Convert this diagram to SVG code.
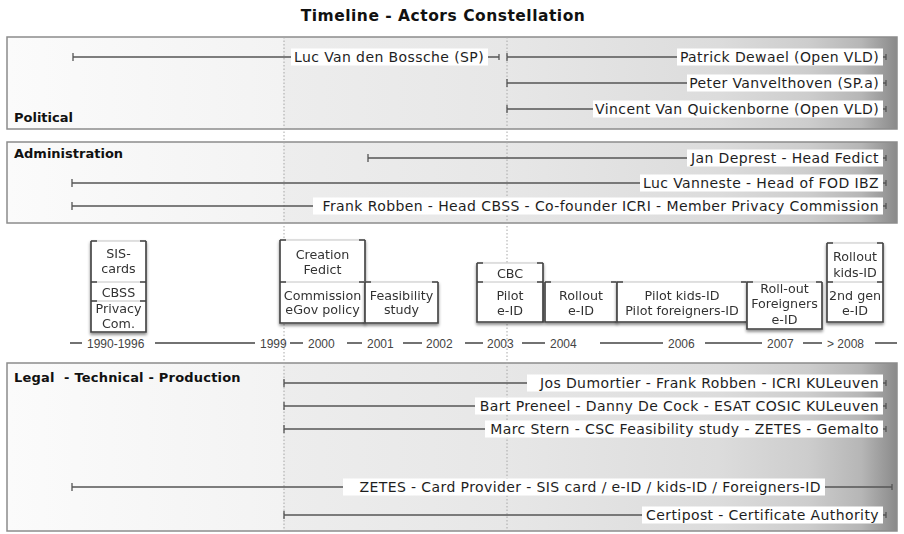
<svg xmlns="http://www.w3.org/2000/svg" width="904" height="534" viewBox="0 0 904 534">
<defs>
<linearGradient id="pg" gradientUnits="userSpaceOnUse" x1="7" y1="0" x2="897" y2="0">
<stop offset="0" stop-color="#fbfbfb"/>
<stop offset="0.31" stop-color="#f3f3f3"/>
<stop offset="0.311" stop-color="#ededed"/>
<stop offset="0.56" stop-color="#e7e7e7"/>
<stop offset="0.8" stop-color="#dcdcdc"/>
<stop offset="0.9" stop-color="#cdcdcd"/>
<stop offset="0.96" stop-color="#b6b6b6"/>
<stop offset="1" stop-color="#8a8a8a"/>
</linearGradient>
<filter id="sh" x="-10%" y="-10%" width="120%" height="130%">
<feDropShadow dx="0" dy="2" stdDeviation="1.5" flood-color="#000" flood-opacity="0.45"/>
</filter>
</defs>
<style>
.panel{fill:url(#pg);stroke:#8c8c8c;stroke-width:1.5}
.dot{stroke:#a8a8a8;stroke-width:1;stroke-dasharray:1.5 2;fill:none}
.ln{stroke:#555;stroke-width:1.3;fill:none}
.bg{fill:#fff}
.lbl{font-family:"DejaVu Sans",Verdana,sans-serif;font-size:14px;letter-spacing:0.4px;fill:#1e1e1e;text-anchor:end}
.sec{font-family:"DejaVu Sans",Verdana,sans-serif;font-weight:bold;font-size:13px;fill:#111;white-space:pre}
.title{font-family:"DejaVu Sans",Verdana,sans-serif;font-weight:bold;font-size:15.5px;letter-spacing:0.5px;fill:#111;text-anchor:middle}
.bt{font-family:"DejaVu Sans",Verdana,sans-serif;font-size:12.7px;fill:#333;text-anchor:middle}
.ax{font-family:"Liberation Sans",Arial,sans-serif;font-size:12px;fill:#444}
.axl{stroke:#444;stroke-width:1.4;fill:none}
.cell{fill:#fff;stroke:#c4c4c4;stroke-width:1}
.lt{stroke:#c4c4c4;stroke-width:1;fill:none}
.dk{stroke:#444;stroke-width:1.6;fill:none}
</style>

<text class="title" x="443" y="21">Timeline - Actors Constellation</text>

<g id="panels">
<rect id="panel-political" class="panel" x="7" y="37" width="890" height="92"/>
<rect id="panel-administration" class="panel" x="7" y="142" width="890" height="81"/>
<rect id="panel-legal" class="panel" x="7" y="363" width="890" height="168"/>
<text class="sec" x="14" y="122">Political</text>
<text class="sec" x="14" y="158">Administration</text>
<text class="sec" x="14" y="382" style="letter-spacing:0.2px">Legal  - Technical - Production</text>
</g>

<g id="guides">
<path class="dot" d="M284,37V531M507,37V531"/>
</g>

<g id="connectors">
<g id="axis">
<path class="axl" d="M70,343H82M155,343H255M290,343H303M347,343H362M403,343H422M465,343H483M522,343H545M600,343H663M705,343H762M803,343H822M875,343H897"/>
<text class="ax" x="87" y="347.5">1990-1996</text>
<text class="ax" x="260" y="347.5">1999</text>
<text class="ax" x="308" y="347.5">2000</text>
<text class="ax" x="367" y="347.5">2001</text>
<text class="ax" x="426" y="347.5">2002</text>
<text class="ax" x="487" y="347.5">2003</text>
<text class="ax" x="550" y="347.5">2004</text>
<text class="ax" x="668" y="347.5">2006</text>
<text class="ax" x="767" y="347.5">2007</text>
<text class="ax" x="827" y="347.5">&gt; 2008</text>
</g>
</g>

<g id="actors">
<g id="actor-vandenbossche">
<path class="ln" d="M73,53V61M73,57H499M499,54V60"/>
<rect class="bg" x="291" y="48.5" width="197" height="17"/>
<text class="lbl" x="484" y="62">Luc Van den Bossche (SP)</text>
</g>
<g id="actor-dewael">
<path class="ln" d="M507,53V61M507,57H886M886,54V60"/>
<rect class="bg" x="677" y="48.5" width="206" height="17"/>
<text class="lbl" x="879" y="62">Patrick Dewael (Open VLD)</text>
</g>
<g id="actor-vanvelthoven">
<path class="ln" d="M507,79V87M507,83H886M886,80V86"/>
<rect class="bg" x="687" y="74.5" width="196" height="17"/>
<text class="lbl" x="879" y="88">Peter Vanvelthoven (SP.a)</text>
</g>
<g id="actor-vanquickenborne">
<path class="ln" d="M507,105V113M507,109H886M886,106V112"/>
<rect class="bg" x="593" y="100.5" width="290" height="17"/>
<text class="lbl" x="879" y="114">Vincent Van Quickenborne (Open VLD)</text>
</g>

<g id="actor-deprest">
<path class="ln" d="M368,154V162M368,158H886M886,155V161"/>
<rect class="bg" x="687" y="149.5" width="196" height="17"/>
<text class="lbl" x="879" y="163">Jan Deprest - Head Fedict</text>
</g>
<g id="actor-vanneste">
<path class="ln" d="M72,179V187M72,183H886M886,180V186"/>
<rect class="bg" x="640" y="174.5" width="243" height="17"/>
<text class="lbl" x="879" y="188">Luc Vanneste - Head of FOD IBZ</text>
</g>
<g id="actor-robben">
<path class="ln" d="M72,202V210M72,206H886M886,203V209"/>
<rect class="bg" x="313" y="197.5" width="570" height="17"/>
<text class="lbl" x="879" y="211">Frank Robben - Head CBSS - Co-founder ICRI - Member Privacy Commission</text>
</g>

<g id="actor-dumortier">
<path class="ln" d="M284,379V387M284,383H886M886,380V386"/>
<rect class="bg" x="527" y="374.5" width="356" height="17"/>
<text class="lbl" x="879" y="388">Jos Dumortier - Frank Robben - ICRI KULeuven</text>
</g>
<g id="actor-preneel">
<path class="ln" d="M284,402V410M284,406H886M886,403V409"/>
<rect class="bg" x="475" y="397.5" width="408" height="17"/>
<text class="lbl" x="879" y="411">Bart Preneel - Danny De Cock - ESAT COSIC KULeuven</text>
</g>
<g id="actor-stern">
<path class="ln" d="M284,425V433M284,429H886M886,426V432"/>
<rect class="bg" x="485" y="420.5" width="398" height="17"/>
<text class="lbl" x="879" y="434">Marc Stern - CSC Feasibility study - ZETES - Gemalto</text>
</g>
<g id="actor-zetes">
<path class="ln" d="M72,483V491M72,487H892M892,484V490"/>
<rect class="bg" x="343" y="478.5" width="482" height="17"/>
<text class="lbl" x="821" y="492">ZETES - Card Provider - SIS card / e-ID / kids-ID / Foreigners-ID</text>
</g>
<g id="actor-certipost">
<path class="ln" d="M284,511V519M284,515H886M886,512V518"/>
<rect class="bg" x="642" y="506.5" width="241" height="17"/>
<text class="lbl" x="879" y="520">Certipost - Certificate Authority</text>
</g>
</g>

<g id="events">
<g id="box-1990" filter="url(#sh)">
<rect class="cell" x="91" y="241" width="55" height="91"/>
<path class="lt" d="M91,282H146M91,301H146"/>
<path class="dk" d="M91,241V332H146V241M91,241H97M146,241H140M91,282H97M146,282H140M91,301H97M146,301H140"/>
<text class="bt" x="118.5" y="258">SIS-</text>
<text class="bt" x="118.5" y="273">cards</text>
<text class="bt" x="118.5" y="297">CBSS</text>
<text class="bt" x="118.5" y="313">Privacy</text>
<text class="bt" x="118.5" y="328">Com.</text>
</g>
<g id="box-2000" filter="url(#sh)">
<rect class="cell" x="280" y="240" width="85" height="83"/>
<path class="lt" d="M280,282H365"/>
<path class="dk" d="M280,240V323H365V240M280,240H286M365,240H359M280,282H286M365,282H359"/>
<text class="bt" x="322.5" y="259">Creation</text>
<text class="bt" x="322.5" y="274">Fedict</text>
<text class="bt" x="322.5" y="300">Commission</text>
<text class="bt" x="322.5" y="314">eGov policy</text>
</g>
<g id="box-2001" filter="url(#sh)">
<rect class="cell" x="365" y="282" width="73" height="41"/>
<path class="dk" d="M365,282V323H438V282M365,282H371M438,282H432"/>
<text class="bt" x="401.5" y="300">Feasibility</text>
<text class="bt" x="401.5" y="314">study</text>
</g>
<g id="box-2003" filter="url(#sh)">
<rect class="cell" x="477" y="263" width="66" height="59"/>
<path class="lt" d="M477,282H543"/>
<path class="dk" d="M477,263V322H543V263M477,263H483M543,263H537M477,282H483M543,282H537"/>
<text class="bt" x="510" y="278">CBC</text>
<text class="bt" x="510" y="300">Pilot</text>
<text class="bt" x="510" y="315">e-ID</text>
</g>
<g id="box-2004" filter="url(#sh)">
<rect class="cell" x="545" y="282" width="72" height="40"/>
<path class="dk" d="M545,282V322H617V282M545,282H551M617,282H611"/>
<text class="bt" x="581" y="300">Rollout</text>
<text class="bt" x="581" y="315">e-ID</text>
</g>
<g id="box-2006" filter="url(#sh)">
<rect class="cell" x="617" y="282" width="130" height="40"/>
<path class="dk" d="M617,282V322H747V282M617,282H623M747,282H741"/>
<text class="bt" x="682" y="300">Pilot kids-ID</text>
<text class="bt" x="682" y="315">Pilot foreigners-ID</text>
</g>
<g id="box-2007" filter="url(#sh)">
<rect class="cell" x="747" y="282" width="75" height="47"/>
<path class="dk" d="M747,282V329H822V282M747,282H753M822,282H816"/>
<text class="bt" x="784.5" y="293">Roll-out</text>
<text class="bt" x="784.5" y="308">Foreigners</text>
<text class="bt" x="784.5" y="324">e-ID</text>
</g>
<g id="box-2008" filter="url(#sh)">
<rect class="cell" x="827" y="243" width="56" height="79"/>
<path class="lt" d="M827,282H883"/>
<path class="dk" d="M827,243V322H883V243M827,243H833M883,243H877M827,282H833M883,282H877"/>
<text class="bt" x="855" y="261">Rollout</text>
<text class="bt" x="855" y="277">kids-ID</text>
<text class="bt" x="855" y="300">2nd gen</text>
<text class="bt" x="855" y="315">e-ID</text>
</g>
</g>
</svg>
